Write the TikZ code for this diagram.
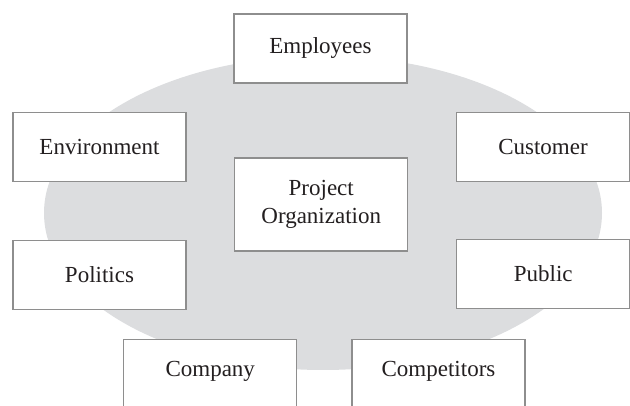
\documentclass[tikz,border=0pt]{standalone}
\usepackage{fontspec}
\setmainfont{Liberation Serif}
\definecolor{fieldgray}{HTML}{DCDDDF}
\definecolor{framegray}{HTML}{8E8E8E}
\definecolor{ink}{HTML}{231F20}
\begin{document}
\begin{tikzpicture}[x=1pt,y=-1pt,
  box/.style={draw=framegray, line width=1.1pt, fill=white, minimum width=173pt,
    minimum height=69pt, inner sep=0pt, text=ink,
    font=\fontsize{23}{26}\selectfont, align=center},
  label/.style={text=ink, font=\fontsize{23}{26}\selectfont}]
  \useasboundingbox (0,0) rectangle (630,406);
  \clip (0,0) rectangle (630,406);
  % background field
  \fill[fieldgray] (323,213) ellipse [x radius=279, y radius=157];
  % surrounding parties
  \node[box] (emp) at (320.5,48.5) {Employees};
  \node[box] (env) at (99.5,147) {Environment};
  \node[box] (cus) at (543,147) {Customer};
  \node[box, minimum height=93pt] (proj) at (321.25,204.5) {Project\\[2pt]Organization};
  \node[box] (pol) at (99.5,275) {Politics};
  \node[box] (pub) at (543.25,274) {Public};
  \node[box, minimum height=76pt] (comp) at (210.25,377.5) {};
  \node[box, minimum height=76pt] (cmpt) at (438.5,377.5) {};
  \node[label] (compt) at (210.25,371) {Company};
  \node[label] (cmptt) at (438.5,371) {Competitors};
\end{tikzpicture}
\end{document}
